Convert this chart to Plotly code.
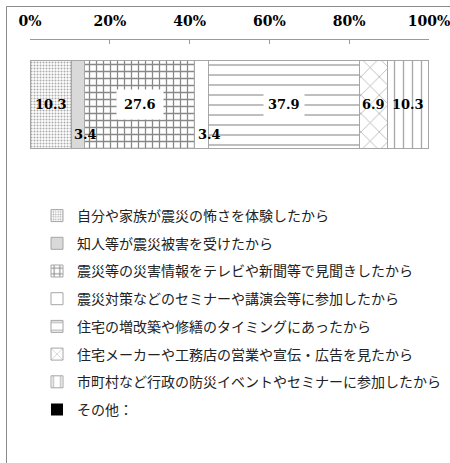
import plotly.graph_objects as go

categories = [
    "自分や家族が震災の怖さを体験したから",
    "知人等が震災被害を受けたから",
    "震災等の災害情報をテレビや新聞等で見聞きしたから",
    "震災対策などのセミナーや講演会等に参加したから",
    "住宅の増改築や修繕のタイミングにあったから",
    "住宅メーカーや工務店の営業や宣伝・広告を見たから",
    "市町村など行政の防災イベントやセミナーに参加したから",
    "その他：",
]
values = [10.3, 3.4, 27.6, 3.4, 37.9, 6.9, 10.3, 0]
tick_vals = [0, 20, 40, 60, 80, 100]
tick_text = ["0%", "20%", "40%", "60%", "80%", "100%"]

styles = [
    dict(shape=".", bg="#ffffff", fg="#ababab", size=3, sol=0.35, solid=None),
    dict(shape="", bg=None, fg=None, size=None, sol=None, solid="#d9d9d9"),
    dict(shape="+", bg="#ffffff", fg="#888888", size=7, sol=0.33, solid=None),
    dict(shape="", bg=None, fg=None, size=None, sol=None, solid="#ffffff"),
    dict(shape="-", bg="#ffffff", fg="#b8b8b8", size=10, sol=0.18, solid=None),
    dict(shape="x", bg="#ffffff", fg="#a0a0a0", size=13, sol=0.1, solid=None),
    dict(shape="|", bg="#ffffff", fg="#a8a8a8", size=9, sol=0.15, solid=None),
    dict(shape="", bg=None, fg=None, size=None, sol=None, solid="#000000"),
]

fig = go.Figure()
for i, (name, v, st) in enumerate(zip(categories, values, styles)):
    if st["solid"] is not None:
        marker = dict(color=st["solid"])
    else:
        marker = dict(color="#ffffff",
                      pattern=dict(shape=st["shape"], bgcolor=st["bg"], fgcolor=st["fg"],
                                   size=st["size"], solidity=st["sol"], fillmode="replace"))
    marker["line"] = dict(color="#a6a6a6", width=0 if v == 0 else 1)
    fig.add_trace(go.Bar(x=[v], y=[0], orientation="h", width=1, name=name,
                         marker=marker, legendgroup=f"g{i}", hoverinfo="skip"))

W, H = 450, 463
L, R, T, B = 30, 21, 40, 0
pw, ph = W - L - R, H - T - B
BAR_TOP, BAR_BOT = 60, 148
unit = BAR_BOT - BAR_TOP  # px per y unit (bar width = 1)
y_top = 0.5 + (BAR_TOP - T) / unit
y_bot = 0.5 - (H - B - BAR_TOP) / unit

def px_x(p):
    return (p - L) / pw

def px_y(p):
    return (H - B - p) / ph

# data labels
cum = 0
label_font = dict(family="DejaVu Serif", size=13, color="#000000")
for i, v in enumerate(values):
    if v == 0:
        continue
    start = cum
    cum += v
    txt = f"<b>{v}</b>"
    if v < 5:
        fig.add_annotation(x=start, y=-0.35, text=txt, showarrow=False, xanchor="left",
                           xshift=1, font=label_font)
    elif v > 20:
        fig.add_annotation(x=start + v / 2, y=0, text=txt, showarrow=False,
                           bgcolor="#ffffff", borderpad=7 if v < 30 else 4, font=label_font)
    else:
        fig.add_annotation(x=start + v / 2, y=0, text=txt, showarrow=False, font=label_font)

# outer frame (left and top lines)
fig.add_shape(type="line", xref="paper", yref="paper", x0=px_x(6.5), x1=px_x(6.5),
              y0=px_y(6.5), y1=px_y(463), line=dict(color="#8a8a8a", width=1))
fig.add_shape(type="line", xref="paper", yref="paper", x0=px_x(6.5), x1=px_x(450),
              y0=px_y(6.5), y1=px_y(6.5), line=dict(color="#8a8a8a", width=1))

fig.update_layout(
    width=W, height=H,
    margin=dict(l=L, r=R, t=T, b=B, pad=0, autoexpand=False),
    barmode="stack",
    bargap=0,
    paper_bgcolor="#ffffff",
    plot_bgcolor="#ffffff",
    showlegend=True,
    legend=dict(
        orientation="v", traceorder="grouped", tracegroupgap=6.5,
        x=px_x(37), xanchor="left", y=px_y(200), yanchor="top",
        font=dict(family="Noto Sans CJK JP", size=14, color="#222222"),
        bgcolor="rgba(0,0,0,0)", itemclick=False, maxheight=440,
    ),
    xaxis=dict(
        side="top", range=[0, 100], tickvals=tick_vals,
        ticktext=[f"<b>{t}</b>" for t in tick_text],
        showgrid=False, zeroline=False, showline=True, linecolor="#9a9a9a", linewidth=1,
        ticks="inside", ticklen=4, tickcolor="#9a9a9a",
        tickfont=dict(family="DejaVu Serif", size=14, color="#000000"),
        ticklabelstandoff=7, ticklabeloverflow="allow", fixedrange=True, automargin=False,
    ),
    yaxis=dict(range=[y_bot, y_top], visible=False, fixedrange=True, automargin=False),
)

fig.write_html("out.html", config={"displayModeBar": False, "staticPlot": True},
               post_script="document.body.style.margin='0';document.body.style.padding='0';")
